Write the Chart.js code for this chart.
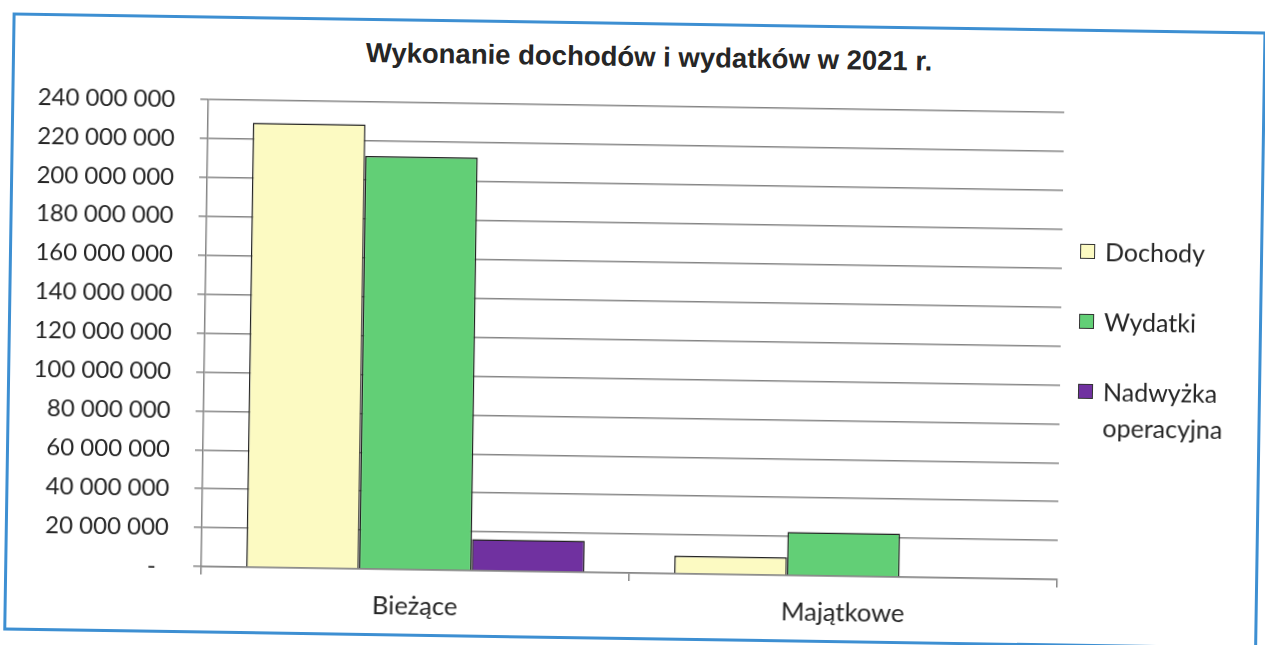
<!DOCTYPE html>
<html>
<head>
<meta charset="utf-8">
<script src="https://cdn.jsdelivr.net/npm/chart.js@4.4.1/dist/chart.umd.min.js"></script>
<style>
  html, body { margin: 0; padding: 0; background: #fff; }
  body { width: 1265px; height: 645px; overflow: hidden; position: relative; }
  #page {
    position: absolute; left: 0; top: 0; width: 1265px; height: 645px;
    transform: rotate(0.87deg); transform-origin: 632px 322px;
  }
  #frame {
    position: absolute; left: 8px; top: 22px; width: 1254px; height: 618px;
    border: 3px solid #3d8fd2; box-sizing: border-box;
  }
  #title {
    position: absolute; left: 0; width: 1290px; top: 41px; text-align: center;
    font: bold 27.5px "Liberation Sans", Arial, sans-serif; color: #262626;
  }
  #chart { position: absolute; left: 0; top: 0; }
  #legend {
    position: absolute; left: 1079px; top: 226px;
    font: 25px Lato, "Open Sans", sans-serif; color: #262626;
  }
  .item { position: relative; padding-left: 25px; line-height: 36px; margin-bottom: 34px; }
  .box {
    position: absolute; left: 0; top: 11px; width: 15px; height: 15px;
    border: 1.5px solid #333; box-sizing: border-box;
  }
</style>
</head>
<body>
<div id="page">
  <div id="frame"></div>
  <div id="title">Wykonanie dochodów i wydatków w 2021 r.</div>
  <canvas id="chart" width="1265" height="645"></canvas>
  <div id="legend"></div>
</div>
<script>
// data
const categories = ['Bieżące', 'Majątkowe'];
const seriesNames = ['Dochody', 'Wydatki', ['Nadwyżka', 'operacyjna']];
const dochody = [228400000, 9200000];
const wydatki = [212300000, 22400000];
const nadwyzka = [16200000, null];
const yTicks = [0, 20000000, 40000000, 60000000, 80000000, 100000000, 120000000,
  140000000, 160000000, 180000000, 200000000, 220000000, 240000000];

const colors = ['#fcfac2', '#62cf76', '#7031a0'];
const gridGray = '#858585';
const font = 'Lato, "Open Sans", sans-serif';

function fmt(v) {
  if (v === 0) return '-  ';
  return String(v).replace(/\B(?=(\d{3})+(?!\d))/g, ' ');
}

const datasets = [dochody, wydatki, nadwyzka].map((d, i) => ({
  label: Array.isArray(seriesNames[i]) ? seriesNames[i].join(' ') : seriesNames[i],
  data: d,
  backgroundColor: colors[i],
  borderColor: '#222',
  borderWidth: 1.5,
  barPercentage: 1,
  categoryPercentage: 0.79,
}));

new Chart(document.getElementById('chart'), {
  type: 'bar',
  data: { labels: categories, datasets },
  options: {
    responsive: false,
    animation: false,
    layout: { padding: { left: 0, right: 204, top: 106, bottom: 0 } },
    plugins: { legend: { display: false }, tooltip: { enabled: false } },
    scales: {
      x: {
        afterFit: s => { s.height = 72; },
        grid: { drawOnChartArea: false, drawTicks: true, tickLength: 8, color: gridGray, lineWidth: 1.5 },
        border: { color: gridGray, width: 1.5 },
        ticks: { color: '#262626', font: { family: font, size: 25.5 }, padding: 13 },
      },
      y: {
        min: 0,
        max: 240000000,
        afterFit: s => { s.width = 205; },
        afterBuildTicks: s => { s.ticks = yTicks.map(v => ({ value: v })); },
        grid: { color: gridGray, lineWidth: 1.5, tickLength: 8 },
        border: { color: gridGray, width: 1.5 },
        ticks: { color: '#262626', font: { family: font, size: 24 }, padding: 25, callback: v => fmt(v) },
      }
    }
  }
});

// legend on the right, as in the original
const legend = document.getElementById('legend');
seriesNames.forEach((n, i) => {
  const item = document.createElement('div');
  item.className = 'item';
  item.innerHTML = `<span class="box" style="background:${colors[i]}"></span>` +
    (Array.isArray(n) ? n.join('<br>') : n);
  legend.appendChild(item);
});
</script>
</body>
</html>
